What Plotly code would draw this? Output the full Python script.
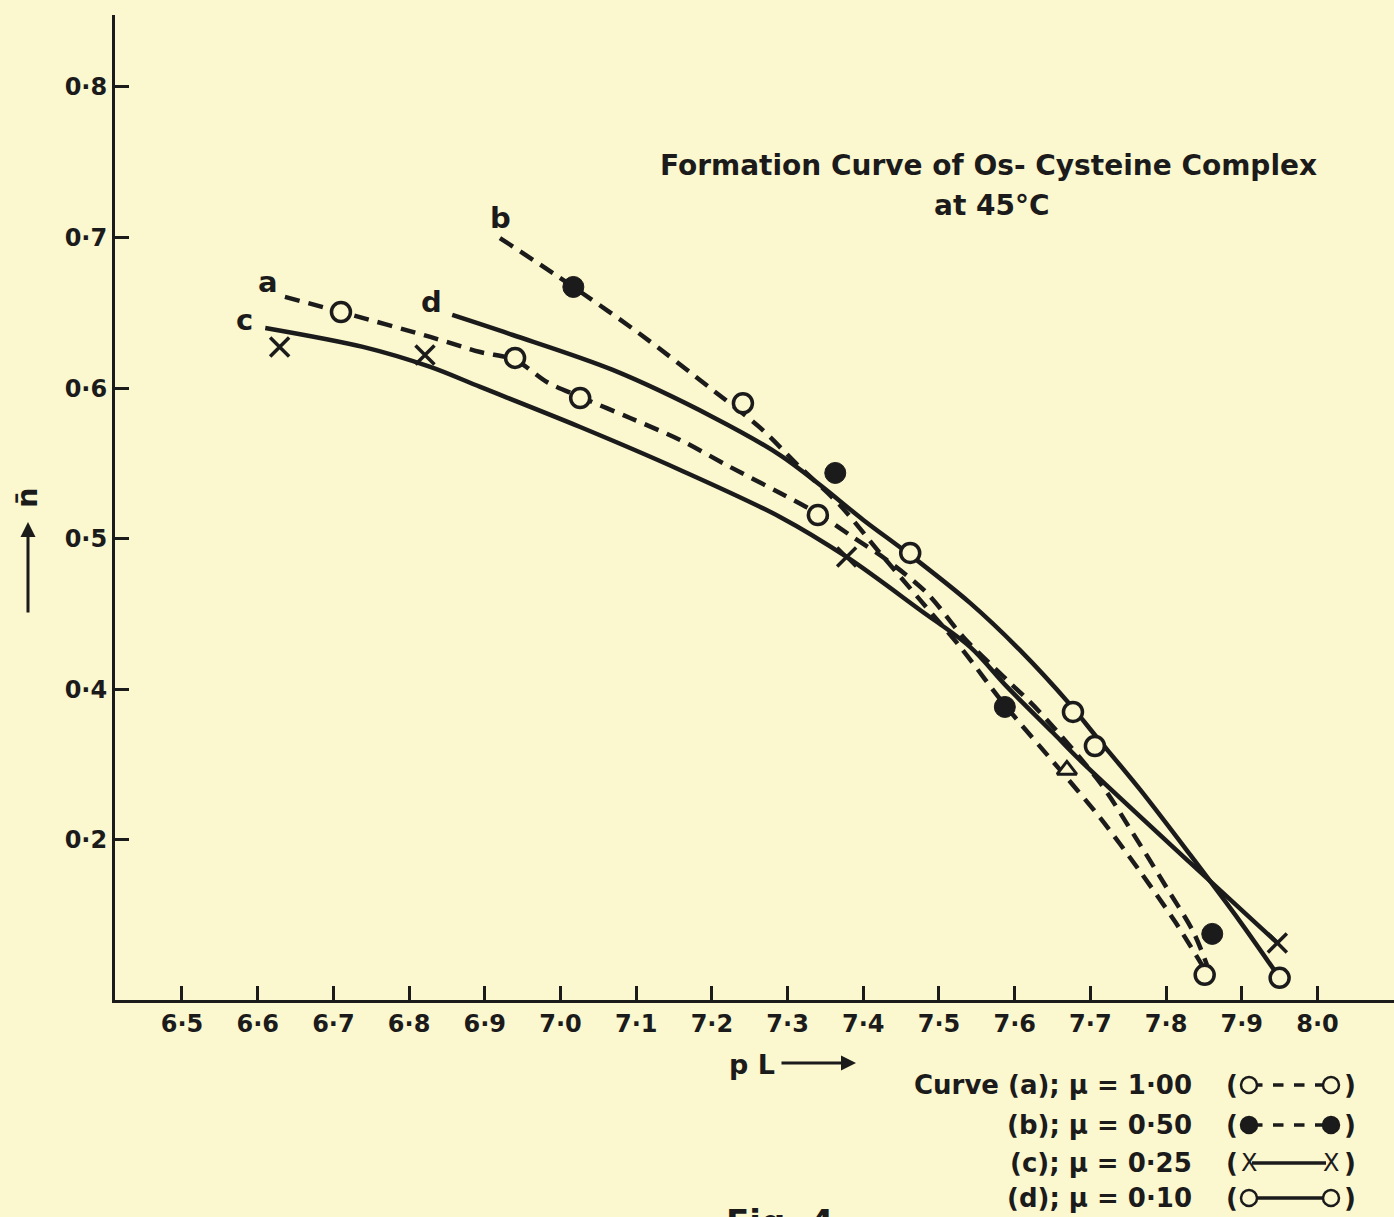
import plotly.graph_objects as go

# ---------------- data ----------------
# Curve (a), mu = 1.00 : open circles, dashed line
a_pts_x = [6.710, 6.940, 7.026, 7.340, 7.851]
a_pts_y = [0.6506, 0.6201, 0.5935, 0.5158, 0.2104]
a_line_x = [6.636, 6.710, 6.828, 6.894, 6.940, 6.982, 7.026, 7.092, 7.158, 7.224, 7.290, 7.343,
            7.386, 7.431, 7.484, 7.532, 7.587, 7.633, 7.713, 7.756, 7.801, 7.836, 7.854]
a_line_y = [0.6606, 0.6506, 0.6340, 0.6240, 0.6187, 0.6041, 0.5942, 0.5802, 0.5656, 0.5477, 0.5304, 0.5158,
            0.5012, 0.4859, 0.4640, 0.4348, 0.4076, 0.3850, 0.3378, 0.3046, 0.2681, 0.2389, 0.2170]

# Curve (b), mu = 0.50 : filled circles, dashed line
b_pts_x = [7.017, 7.363, 7.587, 7.861]
b_pts_y = [0.6672, 0.5437, 0.3883, 0.2376]
b_extra_x = [7.669]          # triangle-like point drawn on curve b
b_extra_y = [0.3465]
b_line_x = [6.920, 7.017, 7.105, 7.201, 7.264, 7.316, 7.369, 7.422, 7.475, 7.528, 7.587, 7.660,
            7.713, 7.766, 7.812, 7.849]
b_line_y = [0.6997, 0.6672, 0.6360, 0.5988, 0.5736, 0.5477, 0.5224, 0.4906, 0.4594, 0.4282, 0.3896, 0.3465,
            0.3146, 0.2788, 0.2456, 0.2157]

# Curve (c), mu = 0.25 : crosses, solid line
c_pts_x = [6.629, 6.821, 7.378, 7.947]
c_pts_y = [0.6274, 0.6220, 0.4879, 0.2316]
c_line_x = [6.610, 6.739, 6.828, 6.894, 7.026, 7.158, 7.290, 7.378, 7.475, 7.541, 7.590, 7.651,
            7.686, 7.832, 7.947]
c_line_y = [0.6400, 0.6274, 0.6141, 0.6008, 0.5742, 0.5457, 0.5145, 0.4879, 0.4527, 0.4282, 0.4016, 0.3710,
            0.3531, 0.2847, 0.2316]

# Curve (d), mu = 0.10 : open circles, solid line
d_pts_x = [7.241, 7.462, 7.677, 7.706, 7.950]
d_pts_y = [0.5900, 0.4906, 0.3850, 0.3624, 0.2084]
d_line_x = [6.857, 6.937, 7.069, 7.201, 7.290, 7.343, 7.400, 7.462, 7.541, 7.607, 7.673, 7.706,
            7.766, 7.832, 7.898, 7.950]
d_line_y = [0.6486, 0.6353, 0.6121, 0.5809, 0.5556, 0.5357, 0.5125, 0.4892, 0.4574, 0.4260, 0.3900, 0.3697,
            0.3332, 0.2900, 0.2456, 0.2084]

x_tick_vals = [6.5, 6.6, 6.7, 6.8, 6.9, 7.0, 7.1, 7.2, 7.3, 7.4, 7.5, 7.6, 7.7, 7.8, 7.9, 8.0]
x_tick_text = ["6·5", "6·6", "6·7", "6·8", "6·9", "7·0", "7·1", "7·2", "7·3", "7·4",
               "7·5", "7·6", "7·7", "7·8", "7·9", "8·0"]
y_tick_vals = [0.8, 0.7, 0.6, 0.5, 0.4, 0.3]
y_tick_text = ["0·8", "0·7", "0·6", "0·5", "0·4", "0·2"]

curve_labels = ["a", "b", "c", "d"]
curve_label_x = [6.614, 6.921, 6.582, 6.830]
curve_label_y = [0.6705, 0.7130, 0.6453, 0.6570]

legend_text = ["Curve (a); μ = 1·00", "(b); μ = 0·50", "(c); μ = 0·25", "(d); μ = 0·10"]

# ---------------- style ----------------
BG = "#fbf7cf"
INK = "#1b1b1b"
FONT = "DejaVu Sans"
W, H = 1394, 1217
ML, MR, MT, MB = 115, 0, 15, 217
PW, PH = W - ML - MR, H - MT - MB


def px(x):
    return (x - ML) / PW


def py(y):
    return (H - MB - y) / PH


def note(x, y, text, size, weight="bold", **kw):
    d = dict(x=px(x), y=py(y), xref="paper", yref="paper", text=text, showarrow=False,
             xanchor="center", yanchor="middle",
             font=dict(family=FONT, size=size, color=INK, weight=weight))
    d.update(kw)
    return d


DASH = "15px,9px"
LW = 4.5

fig = go.Figure()

# lines
for lx, ly, dash in [(a_line_x, a_line_y, DASH), (b_line_x, b_line_y, DASH),
                     (c_line_x, c_line_y, "solid"), (d_line_x, d_line_y, "solid")]:
    fig.add_trace(go.Scatter(x=lx, y=ly, mode="lines", hoverinfo="skip",
                             line=dict(color=INK, width=LW, dash=dash, shape="spline", smoothing=0.9)))

# markers
fig.add_trace(go.Scatter(x=a_pts_x, y=a_pts_y, mode="markers", name="a",
                         marker=dict(symbol="circle", size=19, color=BG, line=dict(color=INK, width=3.5))))
fig.add_trace(go.Scatter(x=b_pts_x, y=b_pts_y, mode="markers", name="b",
                         marker=dict(symbol="circle", size=21, color=INK, line=dict(color=INK, width=1))))
fig.add_trace(go.Scatter(x=b_extra_x, y=b_extra_y, mode="markers", name="b*",
                         marker=dict(symbol="triangle-up", size=17, color=BG, line=dict(color=INK, width=3))))
fig.add_trace(go.Scatter(x=c_pts_x, y=c_pts_y, mode="markers", name="c",
                         marker=dict(symbol="x-thin", size=19, color=INK, line=dict(color=INK, width=3.5))))
fig.add_trace(go.Scatter(x=d_pts_x, y=d_pts_y, mode="markers", name="d",
                         marker=dict(symbol="circle", size=19, color=BG, line=dict(color=INK, width=3.5))))

annotations = []
for lab, lx, ly in zip(curve_labels, curve_label_x, curve_label_y):
    annotations.append(dict(x=lx, y=ly, xref="x", yref="y", text=lab, showarrow=False,
                            xanchor="center", yanchor="middle",
                            font=dict(family=FONT, size=29, color=INK, weight="bold")))

# title
annotations.append(note(988, 166, "Formation Curve of Os- Cysteine Complex", 28))
annotations.append(note(992, 205, "at 45°C", 28))

# x-axis title: "p L" and an arrow
annotations.append(note(752, 1064, "p L", 27))
annotations.append(dict(x=px(856), y=py(1063), xref="paper", yref="paper",
                        ax=-76, ay=0, axref="pixel", ayref="pixel", text="", showarrow=True,
                        arrowhead=2, arrowsize=1, arrowwidth=3, arrowcolor=INK))
# y-axis title: n-bar with an upward arrow
annotations.append(note(27, 498, "n̄", 29, textangle=-90))
annotations.append(dict(x=px(28), y=py(522), xref="paper", yref="paper",
                        ax=0, ay=92, axref="pixel", ayref="pixel", text="", showarrow=True,
                        arrowhead=2, arrowsize=1, arrowwidth=3, arrowcolor=INK))

# figure caption (cut off at the bottom edge in the original scan)
annotations.append(note(780, 1200, "Fig. 4", 34, yanchor="top"))

# legend block
rows_y = [1085, 1125, 1163, 1198]
shapes = []
for i, (txt, ry) in enumerate(zip(legend_text, rows_y)):
    annotations.append(note(1194, ry, txt, 26, xanchor="right"))
    annotations.append(note(1232, ry, "(", 26))
    annotations.append(note(1350, ry, ")", 26))
    dash = "dash" if i < 2 else "solid"
    shapes.append(dict(type="line", xref="paper", yref="paper", x0=px(1252), x1=px(1326),
                       y0=py(ry), y1=py(ry), line=dict(color=INK, width=3.5, dash=dash)))
    if i == 2:
        for cx in (1249, 1331):
            annotations.append(note(cx, ry, "X", 24, weight="normal"))
    else:
        fill = INK if i == 1 else BG
        for cx in (1249, 1331):
            shapes.append(dict(type="circle", xref="paper", yref="paper",
                               x0=px(cx - 8), x1=px(cx + 8), y0=py(ry + 8), y1=py(ry - 8),
                               fillcolor=fill, line=dict(color=INK, width=2.5)))

fig.update_layout(
    width=W, height=H,
    margin=dict(l=ML, r=MR, t=MT, b=MB),
    paper_bgcolor=BG, plot_bgcolor=BG,
    showlegend=False,
    annotations=annotations,
    shapes=shapes,
    font=dict(family=FONT, color=INK),
)
fig.update_xaxes(range=[6.4115, 8.1011], tickvals=x_tick_vals, ticktext=x_tick_text,
                 showgrid=False, zeroline=False, showline=True, linecolor=INK, linewidth=3,
                 ticks="inside", ticklen=14, tickwidth=2.5, tickcolor=INK,
                 tickfont=dict(family=FONT, size=24, color=INK, weight="bold"))
fig.update_yaxes(range=[0.1937, 0.8478], tickvals=y_tick_vals, ticktext=y_tick_text,
                 showgrid=False, zeroline=False, showline=True, linecolor=INK, linewidth=3,
                 ticks="inside", ticklen=14, tickwidth=2.5, tickcolor=INK,
                 tickfont=dict(family=FONT, size=24, color=INK, weight="bold"))

fig.write_html("out.html", config={"displayModeBar": False},
               post_script="document.body.style.margin='0';document.body.style.background='%s';" % BG)
